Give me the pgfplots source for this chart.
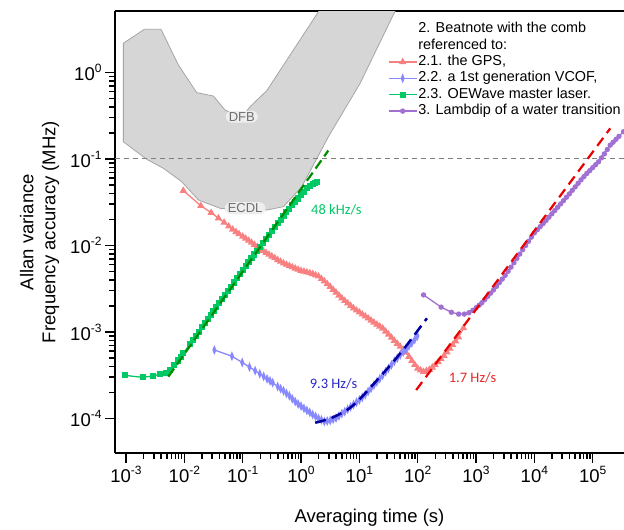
\documentclass[border=0pt]{standalone}
\usepackage{pgfplots}
\pgfplotsset{compat=1.18}
\usepackage{fontspec}
\setmainfont{Liberation Sans}
\newfontfamily\annfont{Carlito}
\definecolor{cpink}{RGB}{248,128,128}
\definecolor{cblue}{RGB}{136,136,255}
\definecolor{cgreen}{RGB}{0,200,100}
\definecolor{cpurple}{RGB}{160,112,210}
\definecolor{cgrayfill}{RGB}{214,214,214}
\definecolor{cgrayedge}{RGB}{165,165,165}
\definecolor{fitgreen}{RGB}{0,140,0}
\definecolor{fitblue}{RGB}{0,0,160}
\definecolor{fitred}{RGB}{235,0,0}
\definecolor{anngreen}{RGB}{0,200,100}
\definecolor{annblue}{RGB}{40,40,200}
\definecolor{annred}{RGB}{230,40,40}
\definecolor{lblfill}{RGB}{238,238,238}
\definecolor{lbltext}{RGB}{110,110,110}
\newcommand{\tl}[1]{10\raisebox{8pt}{\fontsize{12}{12}\selectfont #1}}
\begin{document}
\begin{tikzpicture}
\useasboundingbox (-115pt,-77pt) rectangle (509pt,453pt);
\begin{axis}[
  scale only axis, width=509pt, height=442pt,
  at={(0pt,0pt)}, anchor=south west,
  xmode=log, ymode=log,
  xmin=6.47e-4, xmax=3.44e5, ymin=3.99e-5, ymax=5.14,
  clip marker paths=true,
  axis x line*=box, axis y line*=left,
  axis line style={line width=2.5pt},
  xtick pos=left, ytick pos=left,
  tick align=outside,
  major tick length=10pt, minor tick length=6pt,
  every tick/.style={black, line width=1.5pt},
  xtick={1e-3,1e-2,1e-1,1,1e1,1e2,1e3,1e4,1e5},
  xticklabels={\tl{-3},\tl{-2},\tl{-1},\tl{0},\tl{1},\tl{2},\tl{3},\tl{4},\tl{5}},
  ytick={1e-4,1e-3,1e-2,1e-1,1},
  yticklabels={\tl{-4},\tl{-3},\tl{-2},\tl{-1},\tl{0}},
  tick label style={font=\fontsize{18.5}{20}\selectfont},
  xlabel={Averaging time (s)},
  ylabel={Allan variance\\Frequency accuracy (MHz)},
  label style={font=\fontsize{18.5}{22}\selectfont, align=center},
  xlabel style={at={(axis description cs:0.5,-0.1464)}, anchor=center},
  ylabel style={at={(axis description cs:-0.148,0.5)}, anchor=center},
  legend style={draw=none, fill=none, at={(rel axis cs:0.536,0.978)}, anchor=north west,
    font=\fontsize{14.4}{16}\selectfont, inner sep=0pt, row sep=0pt,
    nodes={inner sep=1pt, text height=10.8pt, text depth=3.6pt}},
  legend cell align=left,
  legend image code/.code={\draw[mark repeat=2,mark phase=2] plot coordinates {(0pt,0pt) (14pt,0pt) (28pt,0pt)};},
]
% tuning ranges
\addplot[forget plot, fill=cgrayfill, draw=cgrayedge, line width=0.8pt] coordinates {
 (9.0e-4,2.18) (2.06e-3,3.16) (3.98e-3,3.16) (7.9e-3,1.22) (0.0163,0.585) (0.0314,0.535)
 (0.0499,0.368) (0.0966,0.306) (0.134,0.403) (0.259,0.617) (1.99,5.05) (3.35,9.0)
 (53.7,7.9) (41.1,5.14) (10.3,0.750) (2.95,0.181) (1.03,0.0479) (0.499,0.0281)
 (0.259,0.0257) (0.110,0.0257) (0.0409,0.0269) (0.0174,0.0336) (9.0e-3,0.0547)
 (4.37e-3,0.078) (2.26e-3,0.0993) (9.0e-4,0.158)
} -- cycle;
\addplot[forget plot, color=gray, dash pattern=on 5pt off 4pt, line width=1pt] coordinates {(6.47e-4,0.1) (3.44e5,0.1)};
\node[fill=lblfill, rounded corners=6pt, inner xsep=3pt, inner ysep=1.5pt, text=lbltext, font=\fontsize{13}{14}\selectfont] at (axis cs:0.0966,0.308) {DFB};
\node[fill=lblfill, rounded corners=6pt, inner xsep=3pt, inner ysep=1.5pt, text=lbltext, font=\fontsize{13}{14}\selectfont] at (axis cs:0.110,0.0269) {ECDL};

\addlegendimage{empty legend}\addlegendentry{2. Beatnote with the comb}
\addlegendimage{empty legend}\addlegendentry{referenced to:}

% GPS
\addplot[color=cpink, line width=1.3pt, mark=triangle*, mark size=3pt, mark options={solid}] coordinates {
(0.0096,0.0431) (0.0192,0.0288) (0.0288,0.0239) (0.0384,0.0207) (0.048,0.01845) (0.0576,0.01667)
(0.0672,0.01531) (0.0768,0.01435) (0.0864,0.01358) (0.1,0.01271) (0.1122,0.01203) (0.1259,0.01140)
(0.1413,0.01080) (0.1585,0.01023) (0.1778,9.69e-3) (0.1995,0.00918) (0.2239,8.70e-3) (0.2512,0.00824)
(0.2818,7.86e-3) (0.3162,0.00749) (0.3548,7.15e-3) (0.3981,0.00682) (0.4467,6.52e-3) (0.5012,0.00622)
(0.5623,6.02e-3) (0.631,0.00582) (0.7079,5.63e-3) (0.7943,0.00544) (0.8913,5.27e-3) (1.0,0.00511)
(1.122,5.00e-3) (1.259,0.00490) (1.413,4.80e-3) (1.585,0.00470) (1.778,4.54e-3) (1.995,0.00440)
(2.239,4.12e-3) (2.512,0.00386) (2.818,3.59e-3) (3.162,0.00334) (3.548,3.09e-3) (3.981,0.00286)
(4.467,2.65e-3) (5.012,0.00246) (5.623,2.30e-3) (6.31,0.00215) (7.079,2.01e-3) (7.943,0.00188)
(8.913,1.78e-3) (10,0.00169) (11.22,1.60e-3) (12.59,0.00152) (14.13,1.44e-3) (15.85,0.00136)
(17.78,1.29e-3) (19.95,0.00122) (22.39,1.16e-3) (25.12,0.00110) (28.18,1.015e-3) (31.62,0.000938)
(35.48,8.63e-4) (39.81,0.000794) (44.67,7.34e-4) (50.12,0.000678) (56.23,6.27e-4) (63.1,0.000581)
(70.79,5.19e-4) (79.43,0.000465) (89.13,4.19e-4) (100,0.000378) (112.2,3.62e-4) (125.9,0.000347)
(141.3,3.56e-4) (158.5,0.000366) (177.8,3.90e-4) (199.5,0.000416) (223.9,4.50e-4) (251.2,0.000486)
(281.8,5.33e-4) (316.2,0.000585) (354.8,6.43e-4) (398.1,0.000708) (446.7,7.84e-4) (501.2,0.000869)
(610,0.00111)
};
\addlegendentry{2.1. the GPS,}
% VCOF
\addplot[color=cblue, line width=1.3pt, mark=diamond*, mark size=3pt, mark options={solid, xscale=0.6, yscale=1.1}] coordinates {
(0.0327,6.19e-4) (0.0654,5.25e-4) (0.0981,4.44e-4) (0.1308,3.93e-4) (0.1635,3.57e-4) (0.1962,3.29e-4)
(0.2289,3.06e-4) (0.2616,2.87e-4) (0.2943,2.72e-4) (0.327,2.59e-4) (0.3981,2.34e-4) (0.4467,2.21e-4)
(0.5012,2.09e-4) (0.5623,1.95e-4) (0.631,1.83e-4) (0.7079,1.69e-4) (0.7943,1.57e-4) (0.8913,1.47e-4)
(1.0,1.39e-4) (1.122,1.31e-4) (1.259,1.24e-4) (1.413,1.175e-4) (1.585,1.11e-4) (1.778,1.055e-4)
(1.995,1.00e-4) (2.239,9.62e-5) (2.512,9.23e-5) (2.818,9.35e-5) (3.162,9.48e-5) (3.548,9.79e-5)
(3.981,1.01e-4) (4.467,1.07e-4) (5.012,1.14e-4) (5.623,1.20e-4) (6.31,1.28e-4) (7.079,1.36e-4)
(7.943,1.45e-4) (8.913,1.54e-4) (10,1.64e-4) (11.22,1.75e-4) (12.59,1.88e-4) (14.13,2.05e-4)
(15.85,2.23e-4) (17.78,2.43e-4) (19.95,2.65e-4) (22.39,2.89e-4) (25.12,3.16e-4) (28.18,3.47e-4)
(31.62,3.80e-4) (35.48,4.17e-4) (39.81,4.58e-4) (44.67,4.98e-4) (50.12,5.42e-4) (56.23,5.86e-4)
(63.1,6.34e-4) (70.79,6.89e-4) (79.43,7.48e-4) (89.13,8.20e-4) (99.1,9.00e-4)
};
\addlegendentry{2.2. a 1st generation VCOF,}
% OEWave
\addplot[color=cgreen, line width=1.3pt, mark=square*, mark size=2.4pt, mark options={solid}] coordinates {
(0.00096,3.15e-4) (0.00192,2.99e-4) (0.00288,3.10e-4) (0.00384,3.25e-4) (0.0048,3.39e-4) (0.00576,3.63e-4)
(0.00672,4.16e-4) (0.00768,4.68e-4) (0.00864,5.18e-4) (0.0096,5.67e-4) (0.01259,7.31e-4) (0.01413,8.15e-4)
(0.01585,9.08e-4) (0.01778,1.01e-3) (0.01995,1.13e-3) (0.02239,1.256e-3) (0.02512,1.40e-3) (0.02818,1.56e-3)
(0.03162,1.74e-3) (0.03548,1.94e-3) (0.03981,2.16e-3) (0.04467,2.41e-3) (0.05012,2.69e-3) (0.05623,3.00e-3)
(0.0631,3.35e-3) (0.07079,3.73e-3) (0.07943,4.16e-3) (0.08913,4.63e-3) (0.1,5.16e-3) (0.1122,5.75e-3)
(0.1259,6.41e-3) (0.1413,7.10e-3) (0.1585,7.87e-3) (0.1778,8.71e-3) (0.1995,9.64e-3) (0.2239,0.01067)
(0.2512,0.0118) (0.2818,0.01312) (0.3162,0.0146) (0.3548,0.01624) (0.3981,0.0181) (0.4467,0.01993)
(0.5012,0.0220) (0.5623,0.02413) (0.631,0.0265) (0.7079,0.02904) (0.7943,0.0318) (0.8913,0.03491)
(1.0,0.0383) (1.122,0.04195) (1.259,0.0459) (1.413,0.04831) (1.585,0.0508) (1.718,0.0527) (1.87,0.0547)
};
\addlegendentry{2.3. OEWave master laser.}
% Lambdip
\addplot[color=cpurple, line width=1.3pt, mark=*, mark size=2pt, mark options={solid}] coordinates {
(126,2.68e-3) (252,1.94e-3) (378,1.69e-3) (504,1.61e-3) (630,1.61e-3) (756,1.67e-3) (882,1.78e-3)
(1008,1.91e-3) (1134,2.04e-3) (1260,2.18e-3) (1413,2.37e-3) (1585,2.58e-3) (1778,2.81e-3) (1995,3.06e-3)
(2239,3.37e-3) (2512,3.72e-3) (2818,4.09e-3) (3162,4.51e-3) (3548,5.04e-3) (3981,5.62e-3) (4467,6.32e-3)
(5012,7.10e-3) (5623,7.96e-3) (6310,8.93e-3) (7079,9.99e-3) (7943,0.01117) (8913,0.01249) (10000,0.01397)
(11220,0.01519) (12589,0.01652) (14125,0.01793) (15849,0.01945) (17783,0.02126) (19953,0.02323)
(22387,0.02535) (25119,0.02767) (28184,0.03023) (31623,0.0330) (35481,0.03614) (39811,0.0395)
(44668,0.04340) (50119,0.0476) (56234,0.05230) (63096,0.0574) (70795,0.06252) (79433,0.0681)
(89125,0.07351) (100000,0.0794) (112202,0.08590) (125893,0.0929) (141254,0.1031) (158489,0.1146)
(177828,0.1287) (199526,0.1445) (223872,0.1563) (251189,0.169) (281838,0.1828) (338844,0.207)
};
\addlegendentry{\rule{0pt}{12.8pt}3. Lambdip of a water transition}

% drift fits
\addplot[forget plot, color=fitgreen, line width=2.2pt, dash pattern=on 10pt off 5pt] coordinates {(5.3e-3,3.04e-4) (2.93,0.125)};
\addplot[forget plot, color=fitblue, line width=2.5pt, dash pattern=on 11pt off 6pt, smooth] coordinates {
(1.75,8.93e-5) (3.16,1.0e-4) (6.11,1.25e-4) (10,1.66e-4) (22.7,3.04e-4) (39.8,4.68e-4) (65.3,7.08e-4) (144,1.44e-3)};
\addplot[forget plot, color=fitred, line width=2.2pt, dash pattern=on 10pt off 6pt] coordinates {(94.2,2.13e-4) (2.0e5,0.226)};

\node[font=\annfont\fontsize{14.5}{16}\selectfont, text=anngreen] at (axis cs:4.03,0.0262) {48 kHz/s};
\node[font=\annfont\fontsize{14.5}{16}\selectfont, text=annblue] at (axis cs:3.60,2.55e-4) {9.3 Hz/s};
\node[font=\annfont\fontsize{14.5}{16}\selectfont, text=annred] at (axis cs:871,2.92e-4) {1.7 Hz/s};
\end{axis}
\end{tikzpicture}
\end{document}
